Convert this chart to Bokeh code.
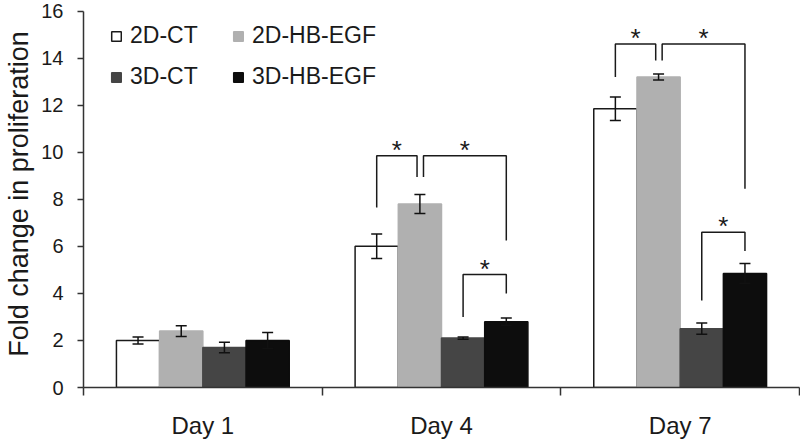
from bokeh.plotting import figure
from bokeh.models import (ColumnDataSource, Whisker, TeeHead, FixedTicker, Legend,
                          LegendItem, Range1d)
from bokeh.embed import file_html
from bokeh.resources import INLINE
from bokeh.core.properties import value

# ---------------- data ----------------
days = ["Day 1", "Day 4", "Day 7"]
series = ["2D-CT", "2D-HB-EGF", "3D-CT", "3D-HB-EGF"]

ct2d = [2.0, 6.0, 11.85]
hb2d = [2.4, 7.8, 13.2]
ct3d = [1.7, 2.1, 2.5]
hb3d = [2.0, 2.8, 4.85]

ct2d_err = [0.15, 0.52, 0.5]
hb2d_err = [0.23, 0.4, 0.13]
ct3d_err = [0.22, 0.05, 0.24]
hb3d_err = [0.34, 0.15, 0.42]

y_ticks = [0, 2, 4, 6, 8, 10, 12, 14, 16]

# significance brackets: (day index, series a, series b, bracket top, leg end a, leg end b)
brackets = [
    (1, 0, 1, 9.85, 7.65, 8.95),
    (1, 1, 3, 9.85, 8.95, 6.25),
    (1, 2, 3, 4.8, 3.0, 4.0),
    (2, 0, 1, 14.6, 13.2, 13.9),
    (2, 1, 3, 14.6, 13.9, 8.45),
    (2, 2, 3, 6.6, 3.7, 5.8),
]

values = [ct2d, hb2d, ct3d, hb3d]
errors = [ct2d_err, hb2d_err, ct3d_err, hb3d_err]

# ---------------- style / layout ----------------
FONT = "Liberation Sans"
TXT = "#1a1a1a"
AX = "#333333"
fills = ["#ffffff", "#b0b0b0", "#454545", "#0d0d0d"]
lines = ["#1a1a1a", "#b0b0b0", "#454545", "#0d0d0d"]
BAR_W = 0.181
offsets = [-0.2715, -0.0905, 0.0905, 0.2715]

p = figure(width=800, height=441, output_backend="svg", toolbar_location=None,
           x_range=Range1d(0, 3), y_range=Range1d(0, 16.45),
           min_border_left=83, min_border_right=1, min_border_top=0,
           min_border_bottom=53)
p.outline_line_color = None
p.grid.visible = False
p.background_fill_color = "white"
p.border_fill_color = "white"

renderers = []
for k in range(4):
    xs = [i + 0.5 + offsets[k] for i in range(len(days))]
    src = ColumnDataSource(dict(x=xs, top=values[k],
                                upper=[v + e for v, e in zip(values[k], errors[k])],
                                lower=[v - e for v, e in zip(values[k], errors[k])]))
    r = p.vbar(x="x", top="top", bottom=0, width=BAR_W, source=src,
               fill_color=fills[k], line_color=lines[k], line_width=1.5)
    renderers.append(r)
    w = Whisker(base="x", upper="upper", lower="lower", source=src,
                line_color="#111111", line_width=1.5, level="overlay",
                upper_head=TeeHead(size=11, line_color="#111111", line_width=1.5),
                lower_head=TeeHead(size=11, line_color="#111111", line_width=1.5))
    p.add_layout(w)

# brackets
bxs, bys, sx, sy = [], [], [], []
for (g, a, b, top, ea, eb) in brackets:
    na = 0.015 if any(bb[0] == g and bb[2] == a for bb in brackets) else 0.0
    nb = -0.012 if any(bb[0] == g and bb[1] == b for bb in brackets) else 0.0
    xa = g + 0.5 + offsets[a] + na
    xb = g + 0.5 + offsets[b] + nb
    bxs.append([xa, xa, xb, xb])
    bys.append([ea, top, top, eb])
    sx.append((xa + xb) / 2)
    sy.append(top)
p.multi_line(xs=bxs, ys=bys, line_color="#1a1a1a", line_width=1.5)
p.text(x=sx, y=sy, text=["*"] * len(sx), text_align="center",
       text_baseline="middle", text_font=value(FONT), text_font_size="26px",
       text_color=TXT, y_offset=-6)

# axes
xa_ = p.xaxis[0]
xa_.ticker = FixedTicker(ticks=[i + 0.5 for i in range(len(days))],
                         minor_ticks=list(range(len(days) + 1)))
xa_.major_label_overrides = {i + 0.5: d for i, d in enumerate(days)}
xa_.major_tick_out = 0
xa_.major_tick_in = 0
xa_.minor_tick_out = 8
xa_.minor_tick_in = 0
xa_.minor_tick_line_color = AX
xa_.minor_tick_line_width = 1.5
xa_.axis_line_color = AX
xa_.axis_line_width = 1.5
xa_.major_label_text_font = FONT
xa_.major_label_text_font_size = "24px"
xa_.major_label_text_color = TXT
xa_.major_label_standoff = 16

ya = p.yaxis[0]
ya.ticker = FixedTicker(ticks=y_ticks, minor_ticks=[])
ya.bounds = (0, 16)
ya.major_tick_out = 6
ya.major_tick_in = 0
ya.major_tick_line_color = AX
ya.major_tick_line_width = 1.5
ya.axis_line_color = AX
ya.axis_line_width = 1.5
ya.major_label_text_font = FONT
ya.major_label_text_font_size = "20px"
ya.major_label_text_color = TXT
ya.major_label_standoff = 14
ya.axis_label = "Fold change in proliferation"
ya.axis_label_text_font = FONT
ya.axis_label_text_font_style = "normal"
ya.axis_label_text_font_size = "27px"
ya.axis_label_text_color = TXT
ya.axis_label_standoff = 4

legend = Legend(items=[LegendItem(label=s, renderers=[r]) for s, r in zip(series, renderers)],
                location=(27, 297), orientation="horizontal", ncols=2,
                glyph_width=12, glyph_height=12, label_standoff=8,
                label_width=88, label_height=24, spacing=14, padding=0, margin=0,
                border_line_color=None, background_fill_alpha=0,
                label_text_font=FONT, label_text_font_size="23px",
                label_text_color=TXT)
p.add_layout(legend)

open("out.html", "w").write(file_html(p, INLINE))
